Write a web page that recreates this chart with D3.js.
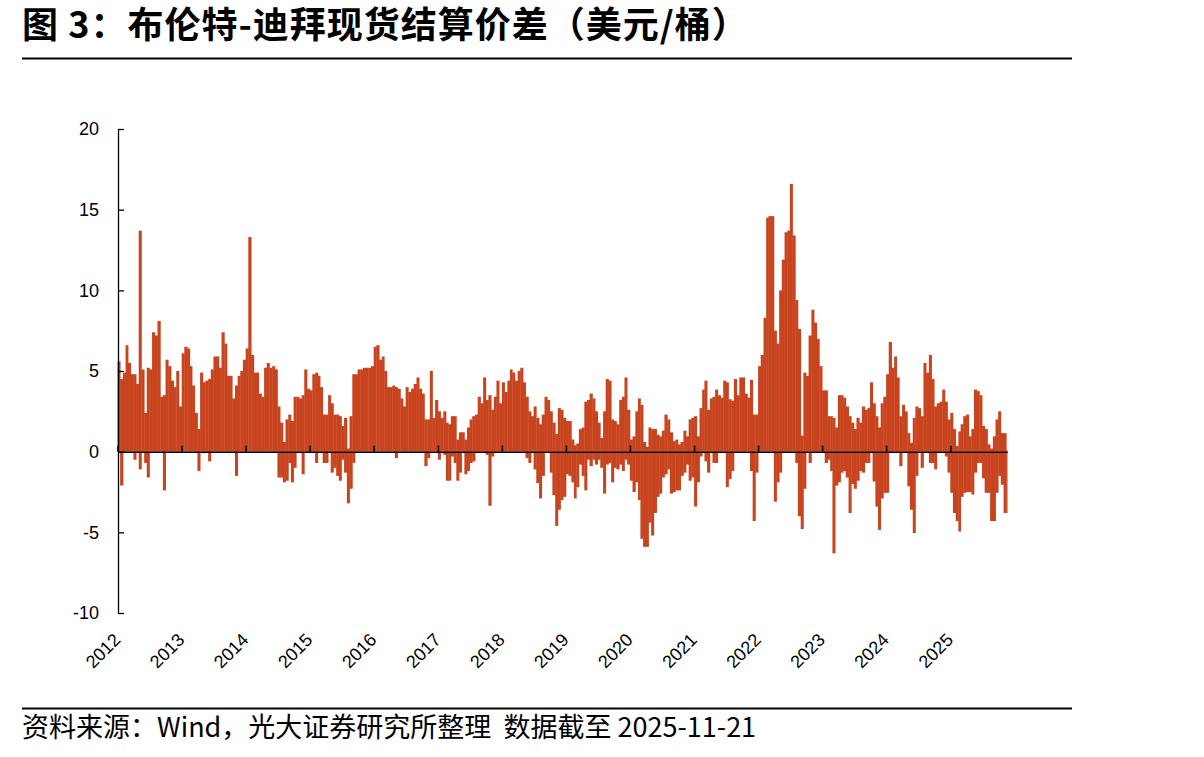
<!DOCTYPE html>
<html><head><meta charset="utf-8">
<script src="https://cdn.jsdelivr.net/npm/d3@7"></script>
<style>body{margin:0;background:#fff}svg{display:block}</style>
</head><body>
<svg id="chart" width="1204" height="757"></svg>
<script>
// ---- data (Brent-Dubai spread, USD/bbl), half-month envelope ----
const years = [2012,2013,2014,2015,2016,2017,2018,2019,2020,2021,2022,2023,2024,2025];
const halfMonthHighs = [
  [5.6,4.5,4.9,6.6,5.5,4.8,4.8,4.2,13.7,5.1,2.4,5.2,5.1,7.4,7.2,8.1,3.4,3.5,5.7,5.3,4.4,4.0,5.0,2.8],
  [6.1,6.5,6.4,5.3,4.1,2.4,1.4,4.9,4.3,4.4,4.5,5.1,5.9,5.9,5.2,7.4,6.7,4.7,4.7,3.3,4.1,4.7,5.0,5.7],
  [6.4,13.3,6.0,4.9,4.9,3.6,3.4,5.2,5.5,5.2,5.3,5.1,2.8,1.8,0.6,2.0,2.3,1.9,3.4,3.4,3.3,3.5,5.1,3.9],
  [3.8,4.8,4.9,4.7,4.0,2.3,2.3,3.5,3.0,2.3,2.3,2.2,1.6,2.1,0.2,2.2,4.8,4.8,5.1,5.1,5.2,5.2,5.2,5.3],
  [6.5,6.6,5.7,5.9,5.0,4.0,4.0,4.1,4.0,3.9,3.3,2.8,4.0,3.7,3.9,4.2,4.6,3.9,3.6,2.0,2.0,5.0,2.1,3.2],
  [2.5,2.1,2.5,1.8,1.7,2.2,2.2,0.75,1.2,1.2,0.75,1.5,2.0,2.2,2.3,3.4,3.0,4.6,3.2,3.5,2.6,3.4,4.4,3.0],
  [4.3,3.7,4.4,5.1,4.9,4.4,5.0,5.2,4.3,3.4,2.5,2.2,2.8,2.1,1.7,2.3,3.4,3.2,2.5,1.8,1.1,2.7,2.6,2.1],
  [1.9,1.9,0.75,0.4,0.5,1.4,1.5,3.1,3.2,3.6,3.3,2.5,1.8,0.85,2.5,4.5,4.4,2.0,1.9,1.7,3.2,3.4,4.6,2.6],
  [0.75,0.95,2.5,3.3,2.9,0.6,0.3,1.5,1.4,1.4,1.05,0.95,1.3,2.3,2.0,1.2,0.65,0.75,0.45,0.6,1.3,0.95,2.0,2.1],
  [2.2,0.95,2.7,3.85,4.4,2.6,3.3,3.4,3.85,3.5,3.35,4.4,4.3,3.25,3.15,4.5,3.5,4.6,4.6,3.6,3.35,4.45,2.3,2.3],
  [5.3,6.0,8.3,14.5,14.6,14.6,7.5,6.7,10.0,11.9,13.6,13.7,16.6,13.4,9.4,7.6,1.0,4.9,4.7,7.2,8.8,8.0,7.0,5.3],
  [3.8,3.8,2.2,2.2,2.1,1.5,3.5,3.5,3.35,2.8,2.2,1.8,1.4,2.1,1.8,2.8,2.6,2.7,4.3,3.0,2.2,1.5,3.0,3.4],
  [4.8,6.8,5.2,5.9,4.6,2.2,2.9,2.5,1.15,0.55,2.1,2.8,2.7,2.2,5.5,4.9,6.0,4.5,2.8,3.0,3.1,3.85,3.1,2.0],
  [2.4,1.4,0.35,1.25,1.7,2.2,2.3,0.95,1.4,3.85,3.75,3.5,1.6,1.4,0.45,0.2,0.95,2.0,2.5,1.15,1.15,0.1]
];
const halfMonthLows = [
  [0,-2.1,0,0,0,0,-0.5,0,-1.1,0,-0.7,-1.6,0,0,0,0,0,-2.4,0,0,0,0,0,0],
  [0,0,0,0,0,0,-1.2,0,-0.1,0,-0.6,0,0,0,0,0,0,0,0,0,-1.5,0,0,0],
  [0,0,0,0,0,0,0,0,0,0,0,0,-1.6,-1.6,-1.9,-1.8,-0.7,-1.9,-1.0,0,0,-1.4,0,0],
  [0,0,-0.7,0,0,-0.7,-0.7,0,-1.3,-1.0,-1.5,-1.8,-0.5,-1.3,-3.2,-2.3,-0.7,0,0,0,0,0,0,0],
  [0,0,0,0,0,0,0,0,-0.4,0,0,0,0,0,0,0,0,0,0,-0.9,-0.4,0,0,0],
  [-0.5,0,-0.2,-1.8,-1.8,-0.3,-0.7,-1.8,-1.3,0,-1.4,-1.2,-0.7,-0.6,0,0,0,0,-0.2,-3.35,-0.3,0,0,0],
  [0,0,0,0,0,0,0,0,0,-0.4,-0.7,0,-1.1,-1.95,-2.9,-1.5,0,0,-1.3,-2.7,-4.6,-3.6,-3.0,-2.8],
  [-1.4,-1.5,-1.9,-2.9,-2.2,-0.8,-1.5,-2.4,-0.5,-0.9,-0.5,-0.8,-0.5,-1.0,-2.6,-0.8,-0.7,-1.9,-1.0,-1.1,-0.8,-1.2,-0.5,-0.8],
  [-1.8,-2.5,-1.9,-3.0,-5.4,-5.9,-5.9,-4.4,-5.2,-3.8,-2.8,-2.6,-1.6,-1.4,-1.1,-2.6,-2.5,-2.4,-2.4,-1.5,-1.3,-0.8,-1.8,-1.6],
  [-3.4,-1.9,-0.3,0,-0.6,-1.3,0,-0.7,-0.7,0,0,0,-2.2,-1.7,-1.2,0,0,0,0,0,0,-1.2,-4.3,-1.3],
  [0,0,0,0,0,0,-3.1,-1.9,-1.3,0,0,0,0,0,-0.7,-4.0,-4.8,-2.3,0,-0.7,0,0,0,0],
  [0,-0.7,-0.5,-1.2,-6.3,-2.1,-1.9,-1.3,-1.2,-1.6,-3.8,-2.0,-2.3,-1.8,-1.2,-1.3,-0.7,-0.7,0,-1.85,-3.4,-4.85,-2.9,-2.55],
  [-2.55,0,0,0,0,-0.9,0,0,-2.15,-3.6,-5.05,-1.5,0,-1.0,0,0,-0.7,-0.7,-1.1,0,0,0,-0.3,-1.3],
  [-2.55,-3.8,-4.3,-4.95,-2.8,-2.55,-2.5,-2.5,-2.65,-1.3,-0.7,-0.7,-1.65,-2.55,-2.55,-4.3,-4.3,-2.55,-1.5,-2.05,-3.8,-3.8]
];
const yTicks = [20,15,10,5,0,-5,-10];
const firstDate = new Date(2012,0,1);
const lastDate = new Date(2025,10,21);
const titleText = "图 3：布伦特-迪拜现货结算价差（美元/桶）";
const sourceText = "资料来源：Wind，光大证券研究所整理  数据截至 2025-11-21";

// ---- build records ----
const records = [];
years.forEach((yr, yi) => {
  halfMonthHighs[yi].forEach((hi, i) => {
    const m = Math.floor(i / 2);
    const start = new Date(yr, m, i % 2 ? 16 : 1);
    let end = i % 2 ? new Date(yr, m + 1, 1) : new Date(yr, m, 16);
    if (end > lastDate) end = lastDate;
    records.push({start, end, hi, lo: halfMonthLows[yi][i]});
  });
});

const svg = d3.select("#chart");
const x = d3.scaleTime().domain([firstDate, lastDate]).range([117.5, 1007.1]);
const y = d3.scaleLinear().domain([-10, 20]).range([613, 129]);
const barColor = "#c8441f";

// title + rules
svg.append("text").attr("x", 22).attr("y", 38)
  .attr("font-family", "'Noto Sans CJK SC', sans-serif").attr("font-weight", 700)
  .attr("font-size", 36).attr("letter-spacing", 1).attr("fill", "#000")
  .style("white-space", "pre").text(titleText);
svg.append("line").attr("x1", 22).attr("x2", 1072).attr("y1", 58.5).attr("y2", 58.5)
  .attr("stroke", "#000").attr("stroke-width", 2);
svg.append("line").attr("x1", 22).attr("x2", 1072).attr("y1", 708.5).attr("y2", 708.5)
  .attr("stroke", "#000").attr("stroke-width", 2);
svg.append("text").attr("x", 22).attr("y", 737)
  .attr("font-family", "'Noto Sans CJK SC', sans-serif")
  .attr("font-size", 27).attr("fill", "#000")
  .style("white-space", "pre").text(sourceText);

// bars
const bars = svg.append("g");
bars.selectAll("rect.hi").data(records.filter(d => d.hi > 0)).join("rect")
  .attr("x", d => x(d.start)).attr("width", d => Math.max(0.5, x(d.end) - x(d.start) + 0.4))
  .attr("y", d => y(d.hi)).attr("height", d => y(0) - y(d.hi)).attr("fill", barColor);
bars.selectAll("rect.lo").data(records.filter(d => d.lo < 0)).join("rect")
  .attr("x", d => x(d.start)).attr("width", d => Math.max(0.5, x(d.end) - x(d.start) + 0.4))
  .attr("y", y(0)).attr("height", d => y(d.lo) - y(0)).attr("fill", barColor);

// x axis on zero line
const yearDates = years.map(yr => new Date(yr, 0, 1));
const xAxis = d3.axisBottom(x).tickValues(yearDates).tickSize(-6).tickSizeOuter(0).tickFormat("");
svg.append("g").attr("transform", `translate(0,${y(0)})`).call(xAxis)
  .call(g => g.selectAll("path,line").attr("stroke", "#000").attr("stroke-width", 1.5));

// x labels at bottom
svg.append("g").selectAll("text").data(yearDates).join("text")
  .attr("transform", d => `translate(${x(d) + 4},641) rotate(-45)`)
  .attr("text-anchor", "end")
  .attr("font-family", "'Liberation Sans', Arial, sans-serif").attr("font-size", 18)
  .attr("fill", "#000").text(d => d.getFullYear());

// y axis
const yAxis = d3.axisLeft(y).tickValues(yTicks).tickSize(-6).tickSizeOuter(0).tickPadding(19)
  .tickFormat(d => String(d));
svg.append("g").attr("transform", "translate(118,0)").call(yAxis)
  .call(g => g.selectAll("path,line").attr("stroke", "#000").attr("stroke-width", 1.3))
  .call(g => g.selectAll("text").attr("font-family", "'Liberation Sans', Arial, sans-serif")
    .attr("font-size", 18).attr("fill", "#000"));
</script>
</body></html>
